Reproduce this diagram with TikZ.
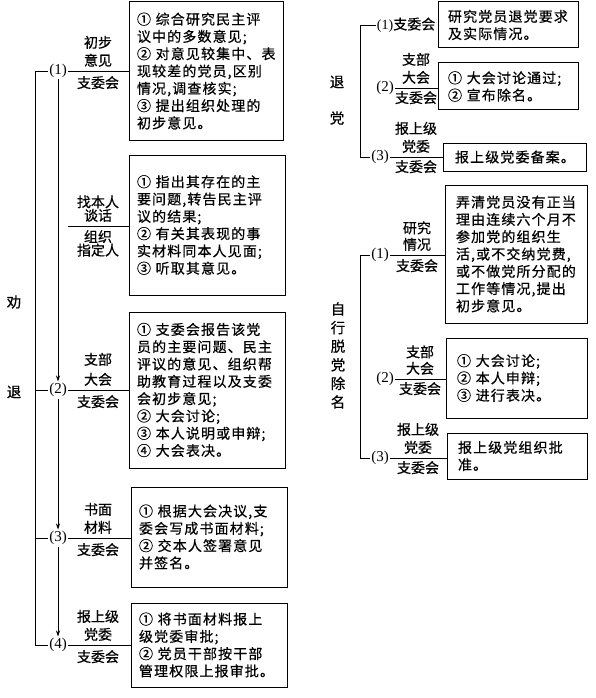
\documentclass[tikz,border=0pt]{standalone}
\usepackage{fontspec}
\newfontfamily\cjk[LetterSpace=8,FakeBold=0.6]{Noto Sans CJK SC}
\newfontfamily\cjkl[FakeBold=0.6]{Noto Sans CJK SC}
\newfontfamily\numf{Liberation Serif}
\usetikzlibrary{arrows.meta}
\begin{document}
\begin{tikzpicture}[x=1pt,y=-1pt,
 box/.style={draw, line width=1pt, inner xsep=8pt, inner ysep=0pt, align=left, font=\cjk\fontsize{14}{17.3}\selectfont},
 lab/.style={inner sep=1pt, align=center, font=\cjkl\fontsize{14}{18}\selectfont},
 num/.style={inner sep=1.5pt, font=\numf\fontsize{15}{16}\selectfont},
 ln/.style={line width=0.9pt},
 arr/.style={line width=0.9pt, -{Stealth[length=6pt,width=4pt]}},
 side/.style={inner sep=0pt, align=center, font=\cjkl\fontsize{14.5}{18.6}\selectfont}]
\useasboundingbox (0,0) rectangle (596,698);

% ---------------- left: boxes
\node[box, minimum width=154pt, text width=138pt, minimum height=138pt] (B1) at (206,71)
 {①~综合研究民主评\\议中的多数意见;\\②~对意见较集中、表\\现较差的党员,区别\\情况,调查核实;\\③~提出组织处理的\\初步意见。};
\node[box, minimum width=156pt, text width=140pt, minimum height=140pt] (B2) at (207,225)
 {①~指出其存在的主\\要问题,转告民主评\\议的结果;\\②~有关其表现的事\\实材料同本人见面;\\③~听取其意见。};
\node[box, minimum width=156pt, text width=140pt, minimum height=156pt] (B3) at (207,390)
 {①~支委会报告该党\\员的主要问题、民主\\评议的意见、组织帮\\助教育过程以及支委\\会初步意见;\\②~大会讨论;\\③~本人说明或申辩;\\④~大会表决。};
\node[box, minimum width=156pt, text width=140pt, minimum height=100pt] (B4) at (209,537)
 {①~根据大会决议,支\\委会写成书面材料;\\②~交本人签署意见\\并签名。};
\node[box, minimum width=156pt, text width=140pt, minimum height=84pt] (B5) at (209,645)
 {①~将书面材料报上\\级党委审批;\\②~党员干部按干部\\管理权限上报审批。};

% ---------------- left: numbers
\node[num] (L1) at (58,71) {(1)};
\node[num] (L2) at (58,390) {(2)};
\node[num] (L3) at (58,538) {(3)};
\node[num] (L4) at (58,645) {(4)};

\coordinate (Ltop) at (35,71);
\draw[ln] (L1.west) -- (Ltop) |- (L4.west);
\draw[ln] (Ltop |- L2) -- (L2.west);
\draw[ln] (Ltop |- L3) -- (L3.west);
\draw[arr] (L1.south) -- (L2.north);
\draw[arr] (L2.south) -- (L3.north);
\draw[arr] (L3.south) -- (L4.north);

\draw[ln] (L1.east) -- (L1 -| B1.west);
\draw[ln] (L2.east) -- (L2 -| B3.west);
\draw[ln] (L3.east) -- (L3 -| B4.west);
\draw[ln] (L4.east) -- (L4 -| B5.west);
\coordinate (F0) at (68,226);
\draw[ln] (F0) -- (F0 -| B2.west);

\node[lab, anchor=south] (L1a) at (98,68) {初步\\意见};
\node[lab, anchor=north] (L1b) at (98,75) {支委会};
\node[lab, anchor=south, font=\cjkl\fontsize{14}{13.5}\selectfont] (F0a) at (98,223) {找本人\\谈话};
\node[lab, anchor=north, font=\cjkl\fontsize{14}{13.5}\selectfont] (F0b) at (98,229) {组织\\指定人};
\node[lab, anchor=south, font=\cjkl\fontsize{14}{20}\selectfont] (L2a) at (98,387) {支部\\大会};
\node[lab, anchor=north] (L2b) at (98,394) {支委会};
\node[lab, anchor=south] (L3a) at (98,535) {书面\\材料};
\node[lab, anchor=north] (L3b) at (98,542) {支委会};
\node[lab, anchor=south] (L4a) at (98,642) {报上级\\党委};
\node[lab, anchor=north] (L4b) at (98,649) {支委会};

\node[side] (S1) at (14,302) {劝};
\node[side] (S2) at (14,392) {退};

% ---------------- right top group
\node[box, inner xsep=10pt, minimum width=140pt, text width=120pt, minimum height=46pt] (R1) at (508,25)
 {研究党员退党要求\\及实际情况。};
\node[box, inner xsep=10pt, minimum width=140pt, text width=120pt, minimum height=47pt] (R2) at (508,86.5)
 {①~大会讨论通过;\\②~宣布除名。};
\node[box, inner xsep=12pt, minimum width=143pt, text width=119pt, minimum height=28pt] (R3) at (514.5,157)
 {报上级党委备案。};

\node[lab, anchor=east] (RT1) at ([xshift=-1pt]R1.west) {{\numf(1)}支委会};
\node[num] (RT2) at (385,88) {(2)};
\node[num] (RT3) at (380,157) {(3)};
\coordinate (RTtop) at (360,25);
\draw[ln] (RT1.west) -- (RTtop) |- (RT3.west);
\draw[ln] (RT2.east) -- (RT2 -| R2.west);
\draw[ln] (RT3.east) -- (RT3 -| R3.west);
\node[lab, anchor=south] (RT2a) at (416,85) {支部\\大会};
\node[lab, anchor=north] (RT2b) at (416,90) {支委会};
\node[lab, anchor=south] (RT3a) at (416,154) {报上级\\党委};
\node[lab, anchor=north] (RT3b) at (416,159) {支委会};

\node[side] (S3) at (337,82) {退};
\node[side] (S4) at (337,118) {党};

% ---------------- right bottom group
\node[box, inner xsep=11pt, minimum width=142pt, text width=120pt, minimum height=138pt] (R4) at (516,254)
 {弄清党员没有正当\\理由连续六个月不\\参加党的组织生\\活,或不交纳党费,\\或不做党所分配的\\工作等情况,提出\\初步意见。};
\node[box, inner xsep=11pt, minimum width=141pt, text width=119pt, minimum height=80pt] (R5) at (516.5,378)
 {①~大会讨论;\\②~本人申辩;\\③~进行表决。};
\node[box, inner xsep=11pt, minimum width=140pt, text width=118pt, minimum height=46pt] (R6) at (517,456)
 {报上级党组织批\\准。};

\node[num] (RB1) at (380,255) {(1)};
\node[num] (RB2) at (385,379) {(2)};
\node[num] (RB3) at (380,458) {(3)};
\coordinate (RBtop) at (360,255);
\draw[ln] (RB1.west) -- (RBtop) |- (RB3.west);
\draw[ln] (RB1.east) -- (RB1 -| R4.west);
\draw[ln] (RB2.east) -- (RB2 -| R5.west);
\draw[ln] (RB3.east) -- (RB3 -| R6.west);
\node[lab, anchor=south, font=\cjkl\fontsize{14}{16.5}\selectfont] (RB1a) at (417,252) {研究\\情况};
\node[lab, anchor=north] (RB1b) at (417,258) {支委会};
\node[lab, anchor=south, font=\cjkl\fontsize{14}{16.5}\selectfont] (RB2a) at (420,376) {支部\\大会};
\node[lab, anchor=north] (RB2b) at (420,381) {支委会};
\node[lab, anchor=south] (RB3a) at (418,455) {报上级\\党委};
\node[lab, anchor=north] (RB3b) at (418,460) {支委会};

\node[side] (S5) at (338,355.5) {自\\行\\脱\\党\\除\\名};
\end{tikzpicture}
\end{document}
